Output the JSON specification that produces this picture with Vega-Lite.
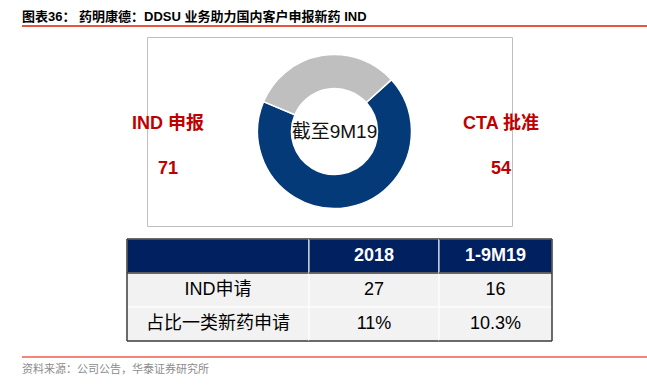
{
  "$schema": "https://vega.github.io/schema/vega-lite/v6.json",
  "background": "white",
  "padding": {"left": 22, "top": 11, "right": 0, "bottom": 0},
  "autosize": {"type": "pad"},
  "config": {
    "view": {"stroke": null},
    "font": "Liberation Sans, Noto Sans CJK SC",
    "title": {"font": "Liberation Sans, Noto Sans CJK SC"}
  },
  "resolve": {"scale": {"color": "independent"}},
  "spacing": 9,
  "vconcat": [
    {
      "width": 625,
      "height": 2,
      "view": {"fill": "#e4553f", "stroke": null},
      "title": {"text": "图表36：  药明康德：DDSU 业务助力国内客户申报新药 IND", "anchor": "start", "frame": "group", "fontSize": 13, "fontWeight": "bold", "color": "#000000", "offset": 1},
      "data": {"values": [{}]},
      "mark": {"type": "text", "fontSize": 0},
      "encoding": {"text": {"value": ""}}
    },
    {
      "spacing": 11,
      "vconcat": [
        {
          "bounds": "flush",
          "spacing": 0,
          "hconcat": [
            {"width": 125, "height": 189, "data": {"values": [{}]}, "mark": {"type": "text", "fontSize": 0}, "encoding": {"text": {"value": ""}}},
            {
              "width": 365,
              "height": 189,
              "view": {"stroke": "#bfbfbf", "strokeWidth": 1, "fill": null},
              "layer": [
                {
                  "data": {"values": [{"segment": "深色", "share": 68.1}, {"segment": "浅色", "share": 31.9}]},
                  "mark": {"type": "arc", "outerRadius": 77, "innerRadius": 43, "stroke": "white", "strokeWidth": 1.5},
                  "encoding": {
                    "theta": {"field": "share", "type": "quantitative", "stack": true, "scale": {"range": [0.8325, 7.1157]}},
                    "order": {"field": "segment", "sort": "descending"},
                    "detail": {"field": "segment"},
                    "color": {"condition": {"test": "datum.segment === '深色'", "value": "#053a79"}, "value": "#bfbfbf"},
                    "x": {"datum": "C", "type": "nominal", "scale": {"type": "point", "domain": ["L", "C", "R"], "padding": 0.0961, "align": 0.656}, "axis": null}
                  }
                },
                {
                  "data": {"values": [{"t": "截至9M19"}]},
                  "mark": {"type": "text", "fontSize": 19, "color": "#111111", "baseline": "middle"},
                  "encoding": {
                    "text": {"field": "t"},
                    "x": {"datum": "C", "type": "nominal", "scale": {"type": "point", "domain": ["L", "C", "R"], "padding": 0.0961, "align": 0.656}, "axis": null}
                  }
                },
                {
                  "data": {"values": [
                    {"col": "L", "row": "label", "t": "IND  申报"},
                    {"col": "L", "row": "value", "t": "71"},
                    {"col": "R", "row": "label", "t": "CTA  批准"},
                    {"col": "R", "row": "value", "t": "54"}
                  ]},
                  "mark": {"type": "text", "fontSize": 18, "fontWeight": "bold", "color": "#c00000", "baseline": "middle"},
                  "encoding": {
                    "x": {"field": "col", "type": "nominal", "scale": {"type": "point", "domain": ["L", "C", "R"], "padding": 0.0961, "align": 0.656}, "axis": null},
                    "y": {"field": "row", "type": "nominal", "scale": {"type": "point", "domain": ["top", "label", "value", "bottom"], "padding": 0.6, "align": 0.778}, "axis": null},
                    "text": {"field": "t"}
                  }
                }
              ]
            }
          ]
        },
        {
          "spacing": 14,
          "vconcat": [
            {
              "bounds": "flush",
              "spacing": 0,
              "hconcat": [
                {"width": 105, "height": 102, "data": {"values": [{}]}, "mark": {"type": "text", "fontSize": 0}, "encoding": {"text": {"value": ""}}},
                {
                  "width": 182,
                  "height": 102,
                  "data": {"values": [
                    {"row": "h", "kind": "header", "t": ""},
                    {"row": "r1", "kind": "body", "t": "IND申请"},
                    {"row": "r2", "kind": "body", "t": "占比一类新药申请"}
                  ]},
                  "layer": [
                    {
                      "mark": {"type": "rect", "stroke": "white", "strokeWidth": 1},
                      "encoding": {
                        "y": {"field": "row", "type": "nominal", "scale": {"type": "band", "domain": ["h", "r1", "r2"], "paddingInner": 0, "paddingOuter": 0}, "axis": null},
                        "color": {"condition": {"test": "datum.kind === 'header'", "value": "#002060"}, "value": "#f2f2f2"}
                      }
                    },
                    {
                      "transform": [{"filter": "datum.kind === 'body'"}],
                      "mark": {"type": "text", "fontSize": 18, "color": "#000000", "baseline": "middle"},
                      "encoding": {"y": {"field": "row", "type": "nominal"}, "text": {"field": "t"}}
                    },
                    {
                      "data": {"values": [{}]},
                      "mark": {"type": "rule", "color": "#3a3a3a", "strokeWidth": 1.5},
                      "encoding": {"y": {"datum": "h", "type": "nominal", "bandPosition": 0}}
                    },
                    {
                      "data": {"values": [{}]},
                      "mark": {"type": "rule", "color": "#3a3a3a", "strokeWidth": 1.5},
                      "encoding": {"y": {"datum": "r1", "type": "nominal", "bandPosition": 0}}
                    },
                    {
                      "data": {"values": [{}]},
                      "mark": {"type": "rule", "color": "#3a3a3a", "strokeWidth": 1.5},
                      "encoding": {"y": {"datum": "r2", "type": "nominal", "bandPosition": 1}}
                    },
                    {
                      "data": {"values": [{}]},
                      "mark": {"type": "rule", "color": "#3a3a3a", "strokeWidth": 1.5},
                      "encoding": {"x": {"datum": "edge", "type": "nominal", "scale": {"type": "band", "paddingInner": 0, "paddingOuter": 0}, "bandPosition": 0, "axis": null}}
                    }
                  ]
                },
                {
                  "width": 130,
                  "height": 102,
                  "data": {"values": [
                    {"row": "h", "kind": "header", "t": "2018"},
                    {"row": "r1", "kind": "body", "t": "27"},
                    {"row": "r2", "kind": "body", "t": "11%"}
                  ]},
                  "layer": [
                    {
                      "mark": {"type": "rect", "stroke": "white", "strokeWidth": 1},
                      "encoding": {
                        "y": {"field": "row", "type": "nominal", "scale": {"type": "band", "domain": ["h", "r1", "r2"], "paddingInner": 0, "paddingOuter": 0}, "axis": null},
                        "color": {"condition": {"test": "datum.kind === 'header'", "value": "#002060"}, "value": "#f2f2f2"}
                      }
                    },
                    {
                      "transform": [{"filter": "datum.kind === 'header'"}],
                      "mark": {"type": "text", "fontSize": 18, "fontWeight": "bold", "color": "#ffffff", "baseline": "middle"},
                      "encoding": {"y": {"field": "row", "type": "nominal"}, "text": {"field": "t"}}
                    },
                    {
                      "transform": [{"filter": "datum.kind === 'body'"}],
                      "mark": {"type": "text", "fontSize": 18, "color": "#000000", "baseline": "middle"},
                      "encoding": {"y": {"field": "row", "type": "nominal"}, "text": {"field": "t"}}
                    },
                    {
                      "data": {"values": [{}]},
                      "mark": {"type": "rule", "color": "#3a3a3a", "strokeWidth": 1.5},
                      "encoding": {"y": {"datum": "h", "type": "nominal", "bandPosition": 0}}
                    },
                    {
                      "data": {"values": [{}]},
                      "mark": {"type": "rule", "color": "#3a3a3a", "strokeWidth": 1.5},
                      "encoding": {"y": {"datum": "r1", "type": "nominal", "bandPosition": 0}}
                    },
                    {
                      "data": {"values": [{}]},
                      "mark": {"type": "rule", "color": "#3a3a3a", "strokeWidth": 1.5},
                      "encoding": {"y": {"datum": "r2", "type": "nominal", "bandPosition": 1}}
                    }
                  ]
                },
                {
                  "width": 113,
                  "height": 102,
                  "data": {"values": [
                    {"row": "h", "kind": "header", "t": "1-9M19"},
                    {"row": "r1", "kind": "body", "t": "16"},
                    {"row": "r2", "kind": "body", "t": "10.3%"}
                  ]},
                  "layer": [
                    {
                      "mark": {"type": "rect", "stroke": "white", "strokeWidth": 1},
                      "encoding": {
                        "y": {"field": "row", "type": "nominal", "scale": {"type": "band", "domain": ["h", "r1", "r2"], "paddingInner": 0, "paddingOuter": 0}, "axis": null},
                        "color": {"condition": {"test": "datum.kind === 'header'", "value": "#002060"}, "value": "#f2f2f2"}
                      }
                    },
                    {
                      "transform": [{"filter": "datum.kind === 'header'"}],
                      "mark": {"type": "text", "fontSize": 18, "fontWeight": "bold", "color": "#ffffff", "baseline": "middle"},
                      "encoding": {"y": {"field": "row", "type": "nominal"}, "text": {"field": "t"}}
                    },
                    {
                      "transform": [{"filter": "datum.kind === 'body'"}],
                      "mark": {"type": "text", "fontSize": 18, "color": "#000000", "baseline": "middle"},
                      "encoding": {"y": {"field": "row", "type": "nominal"}, "text": {"field": "t"}}
                    },
                    {
                      "data": {"values": [{}]},
                      "mark": {"type": "rule", "color": "#3a3a3a", "strokeWidth": 1.5},
                      "encoding": {"y": {"datum": "h", "type": "nominal", "bandPosition": 0}}
                    },
                    {
                      "data": {"values": [{}]},
                      "mark": {"type": "rule", "color": "#3a3a3a", "strokeWidth": 1.5},
                      "encoding": {"y": {"datum": "r1", "type": "nominal", "bandPosition": 0}}
                    },
                    {
                      "data": {"values": [{}]},
                      "mark": {"type": "rule", "color": "#3a3a3a", "strokeWidth": 1.5},
                      "encoding": {"y": {"datum": "r2", "type": "nominal", "bandPosition": 1}}
                    },
                    {
                      "data": {"values": [{}]},
                      "mark": {"type": "rule", "color": "#3a3a3a", "strokeWidth": 1.5},
                      "encoding": {"x": {"datum": "edge", "type": "nominal", "scale": {"type": "band", "paddingInner": 0, "paddingOuter": 0}, "bandPosition": 1, "axis": null}}
                    }
                  ]
                }
              ]
            },
            {
              "width": 625,
              "height": 2,
              "view": {"fill": "#f4857a", "stroke": null},
              "title": {"text": "资料来源：公司公告，华泰证券研究所", "orient": "bottom", "anchor": "start", "frame": "group", "fontSize": 11, "fontWeight": "normal", "color": "#8c8c8c", "offset": 6},
              "data": {"values": [{}]},
              "mark": {"type": "text", "fontSize": 0},
              "encoding": {"text": {"value": ""}}
            }
          ]
        }
      ]
    }
  ]
}
